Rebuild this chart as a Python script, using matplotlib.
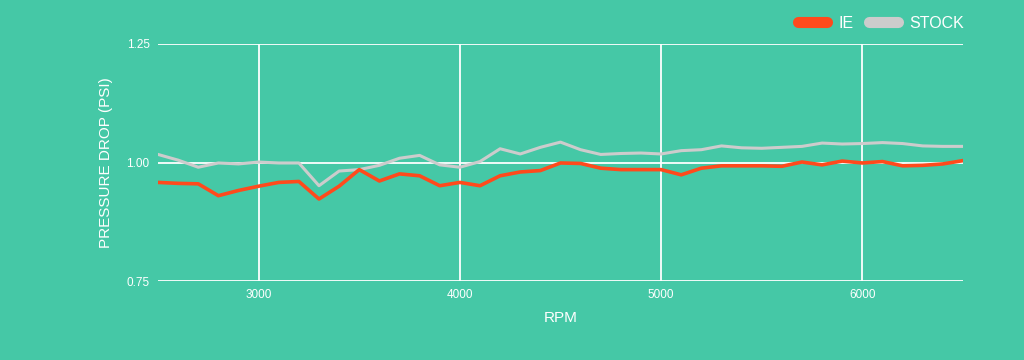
import matplotlib
matplotlib.use("Agg")
from matplotlib import pyplot as plt
from matplotlib.lines import Line2D
from matplotlib.ticker import FormatStrFormatter

# readings every 100 rpm
rpm = list(range(2500, 6501, 100))
ie = [0.958, 0.956, 0.955, 0.930, 0.941, 0.950, 0.958, 0.960, 0.923, 0.950,
      0.985, 0.961, 0.976, 0.972, 0.951, 0.958, 0.951, 0.972, 0.980, 0.983,
      0.999, 0.998, 0.988, 0.985, 0.985, 0.985, 0.974, 0.988, 0.993, 0.993,
      0.993, 0.992, 1.001, 0.995, 1.003, 0.999, 1.002, 0.993, 0.994, 0.997,
      1.004]
stock = [1.017, 1.005, 0.990, 0.999, 0.997, 1.001, 0.999, 0.999, 0.951, 0.982,
         0.985, 0.994, 1.009, 1.015, 0.995, 0.990, 1.002, 1.029, 1.018, 1.032,
         1.043, 1.027, 1.017, 1.019, 1.020, 1.018, 1.025, 1.027, 1.035, 1.031,
         1.030, 1.032, 1.034, 1.041, 1.039, 1.040, 1.042, 1.040, 1.035, 1.034,
         1.034]
x_ticks = [3000, 4000, 5000, 6000]
y_ticks = [0.75, 1.00, 1.25]

bg = "#45c8a6"
red = "#ff4a1c"
grey = "#cccccc"

plt.rcParams["font.family"] = ["Liberation Sans", "DejaVu Sans"]

fig = plt.figure(figsize=(10.24, 3.6), dpi=100, facecolor=bg)
ax = fig.add_axes([0.1543, 0.2194, 0.7861, 0.6584], facecolor=bg)

ax.plot(rpm, stock, color=grey, lw=2.2, solid_joinstyle="round", zorder=3)
ax.plot(rpm, ie, color=red, lw=2.6, solid_joinstyle="round", zorder=4)

ax.set_xlim(2500, 6500)
ax.set_ylim(0.75, 1.25)
ax.set_xticks(x_ticks)
ax.set_yticks(y_ticks)
ax.yaxis.set_major_formatter(FormatStrFormatter("%.2f"))
ax.grid(True, color="white", lw=1.3, zorder=1)
for s in ax.spines.values():
    s.set_visible(False)
ax.tick_params(length=0, colors="white", labelsize=8.5, pad=6)

ax.set_xlabel("RPM", color="white", fontsize=11, labelpad=7)
ax.set_ylabel("PRESSURE DROP (PSI)", color="white", fontsize=11, labelpad=10)

handles = [Line2D([], [], color=red, lw=8, solid_capstyle="round"),
           Line2D([], [], color=grey, lw=8, solid_capstyle="round")]
ax.legend(handles, ["IE", "STOCK"], loc="upper right", bbox_to_anchor=(1.019, 1.18),
          ncol=2, frameon=False, labelcolor="white", fontsize=11.5,
          handlelength=1.8, handletextpad=0.7, columnspacing=1.0)

fig.savefig("out.png", dpi=100, facecolor=bg)
